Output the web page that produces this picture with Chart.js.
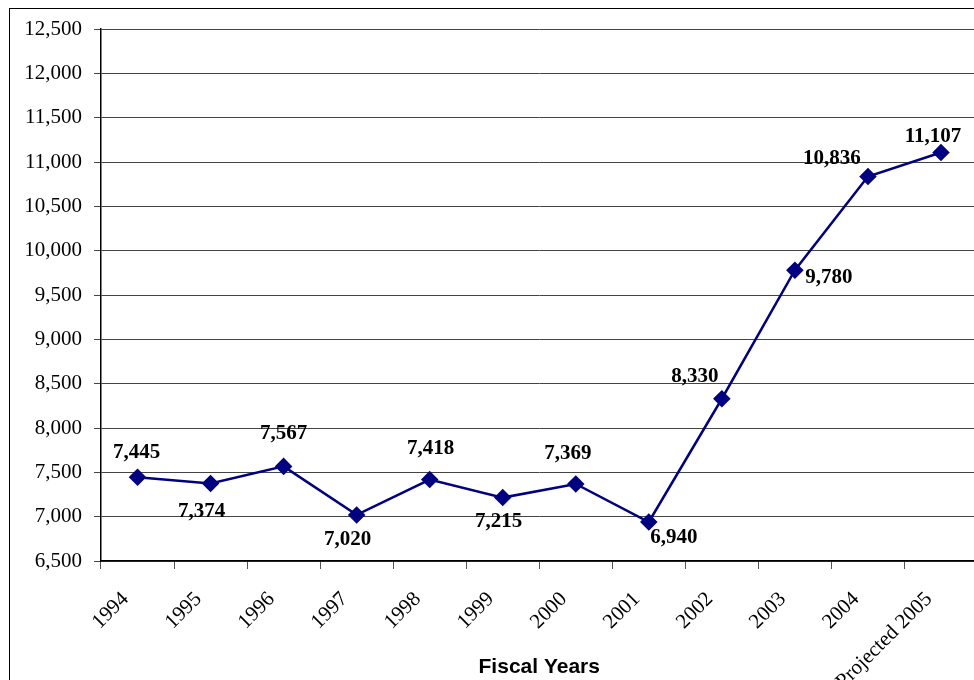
<!DOCTYPE html>
<html>
<head>
<meta charset="utf-8">
<script src="https://cdn.jsdelivr.net/npm/chart.js@4.4.1/dist/chart.umd.min.js"></script>
<style>
  html, body { margin: 0; padding: 0; background: #fff; overflow: hidden; }
  #wrap { position: absolute; left: 0; top: 0; width: 987px; height: 680px; }
</style>
</head>
<body>
<div id="wrap"><canvas id="chart" width="987" height="680"></canvas></div>
<script>
// chart data
const years = ['1994', '1995', '1996', '1997', '1998', '1999', '2000', '2001', '2002', '2003', '2004', 'Projected 2005'];
const totals = [7445, 7374, 7567, 7020, 7418, 7215, 7369, 6940, 8330, 9780, 10836, 11107];
const yMin = 6500;
const yMax = 12500;
const yStep = 500;

// where each value label sits relative to its point (px)
const labelShift = [
    [-1, -25], [-9, 28], [0, -33], [-9, 25], [1, -31], [-4, 24],
    [-8, -30], [25, 16], [-27, -22], [34, 7], [-36, -18], [-8, -16]
];

const fmt = v => v.toLocaleString('en-US');
const serif = '"Liberation Serif", "Times New Roman", serif';

// outer frame of the chart box
const framePlugin = {
    id: 'frame',
    beforeDraw(chart) {
        const c = chart.ctx;
        c.save();
        c.fillStyle = '#fff';
        c.fillRect(0, 0, chart.width, chart.height);
        c.strokeStyle = '#000';
        c.lineWidth = 1;
        c.strokeRect(9.5, 8.5, chart.width + 20, chart.height + 40);
        c.restore();
    }
};

// value labels next to each point
const valueLabels = {
    id: 'valueLabels',
    afterDatasetsDraw(chart) {
        const c = chart.ctx;
        const meta = chart.getDatasetMeta(0);
        c.save();
        c.font = 'bold 21px ' + serif;
        c.fillStyle = '#000';
        c.textAlign = 'center';
        c.textBaseline = 'middle';
        meta.data.forEach((pt, i) => {
            const s = labelShift[i];
            c.fillText(fmt(totals[i]), pt.x + s[0], pt.y + s[1]);
        });
        c.restore();
    }
};

const ctx = document.getElementById('chart').getContext('2d');
new Chart(ctx, {
    type: 'line',
    data: {
        labels: years,
        datasets: [{
            data: totals,
            borderColor: '#000080',
            backgroundColor: '#000080',
            borderWidth: 2.5,
            pointStyle: 'rectRot',
            pointRadius: 7,
            pointHoverRadius: 7,
            pointBackgroundColor: '#000080',
            pointBorderColor: '#000080',
            tension: 0
        }]
    },
    options: {
        responsive: false,
        animation: false,
        devicePixelRatio: 1,
        layout: { padding: { left: 0, top: 29, right: 3, bottom: 0 } },
        plugins: {
            legend: { display: false },
            tooltip: { enabled: false }
        },
        scales: {
            x: {
                type: 'category',
                offset: true,
                grid: {
                    offset: true,
                    drawOnChartArea: false,
                    drawTicks: true,
                    tickLength: 8,
                    color: '#555'
                },
                border: { color: '#000', width: 1.5 },
                ticks: {
                    color: '#000',
                    font: { family: serif, size: 21 },
                    minRotation: 45,
                    maxRotation: 45,
                    autoSkip: false,
                    padding: 18,
                    labelOffset: -12
                },
                title: {
                    display: true,
                    text: 'Fiscal Years',
                    color: '#000',
                    font: { family: '"Liberation Sans", Arial, sans-serif', size: 21, weight: 'bold' },
                    padding: { top: 0, bottom: 0 }
                },
                afterFit(scale) {
                    scale.height = 119;
                    scale.paddingLeft = 0;
                    scale.paddingRight = 0;
                }
            },
            y: {
                min: yMin,
                max: yMax,
                grid: {
                    color: '#444',
                    lineWidth: 1,
                    drawTicks: true,
                    tickLength: 7
                },
                border: { color: '#000', width: 1.5 },
                ticks: {
                    stepSize: yStep,
                    color: '#000',
                    padding: 12,
                    font: { family: serif, size: 21 },
                    callback: v => fmt(v)
                },
                afterFit(scale) {
                    scale.width = 101;
                    scale.paddingTop = 0;
                    scale.paddingBottom = 0;
                }
            }
        }
    },
    plugins: [framePlugin, valueLabels]
});
</script>
</body>
</html>
